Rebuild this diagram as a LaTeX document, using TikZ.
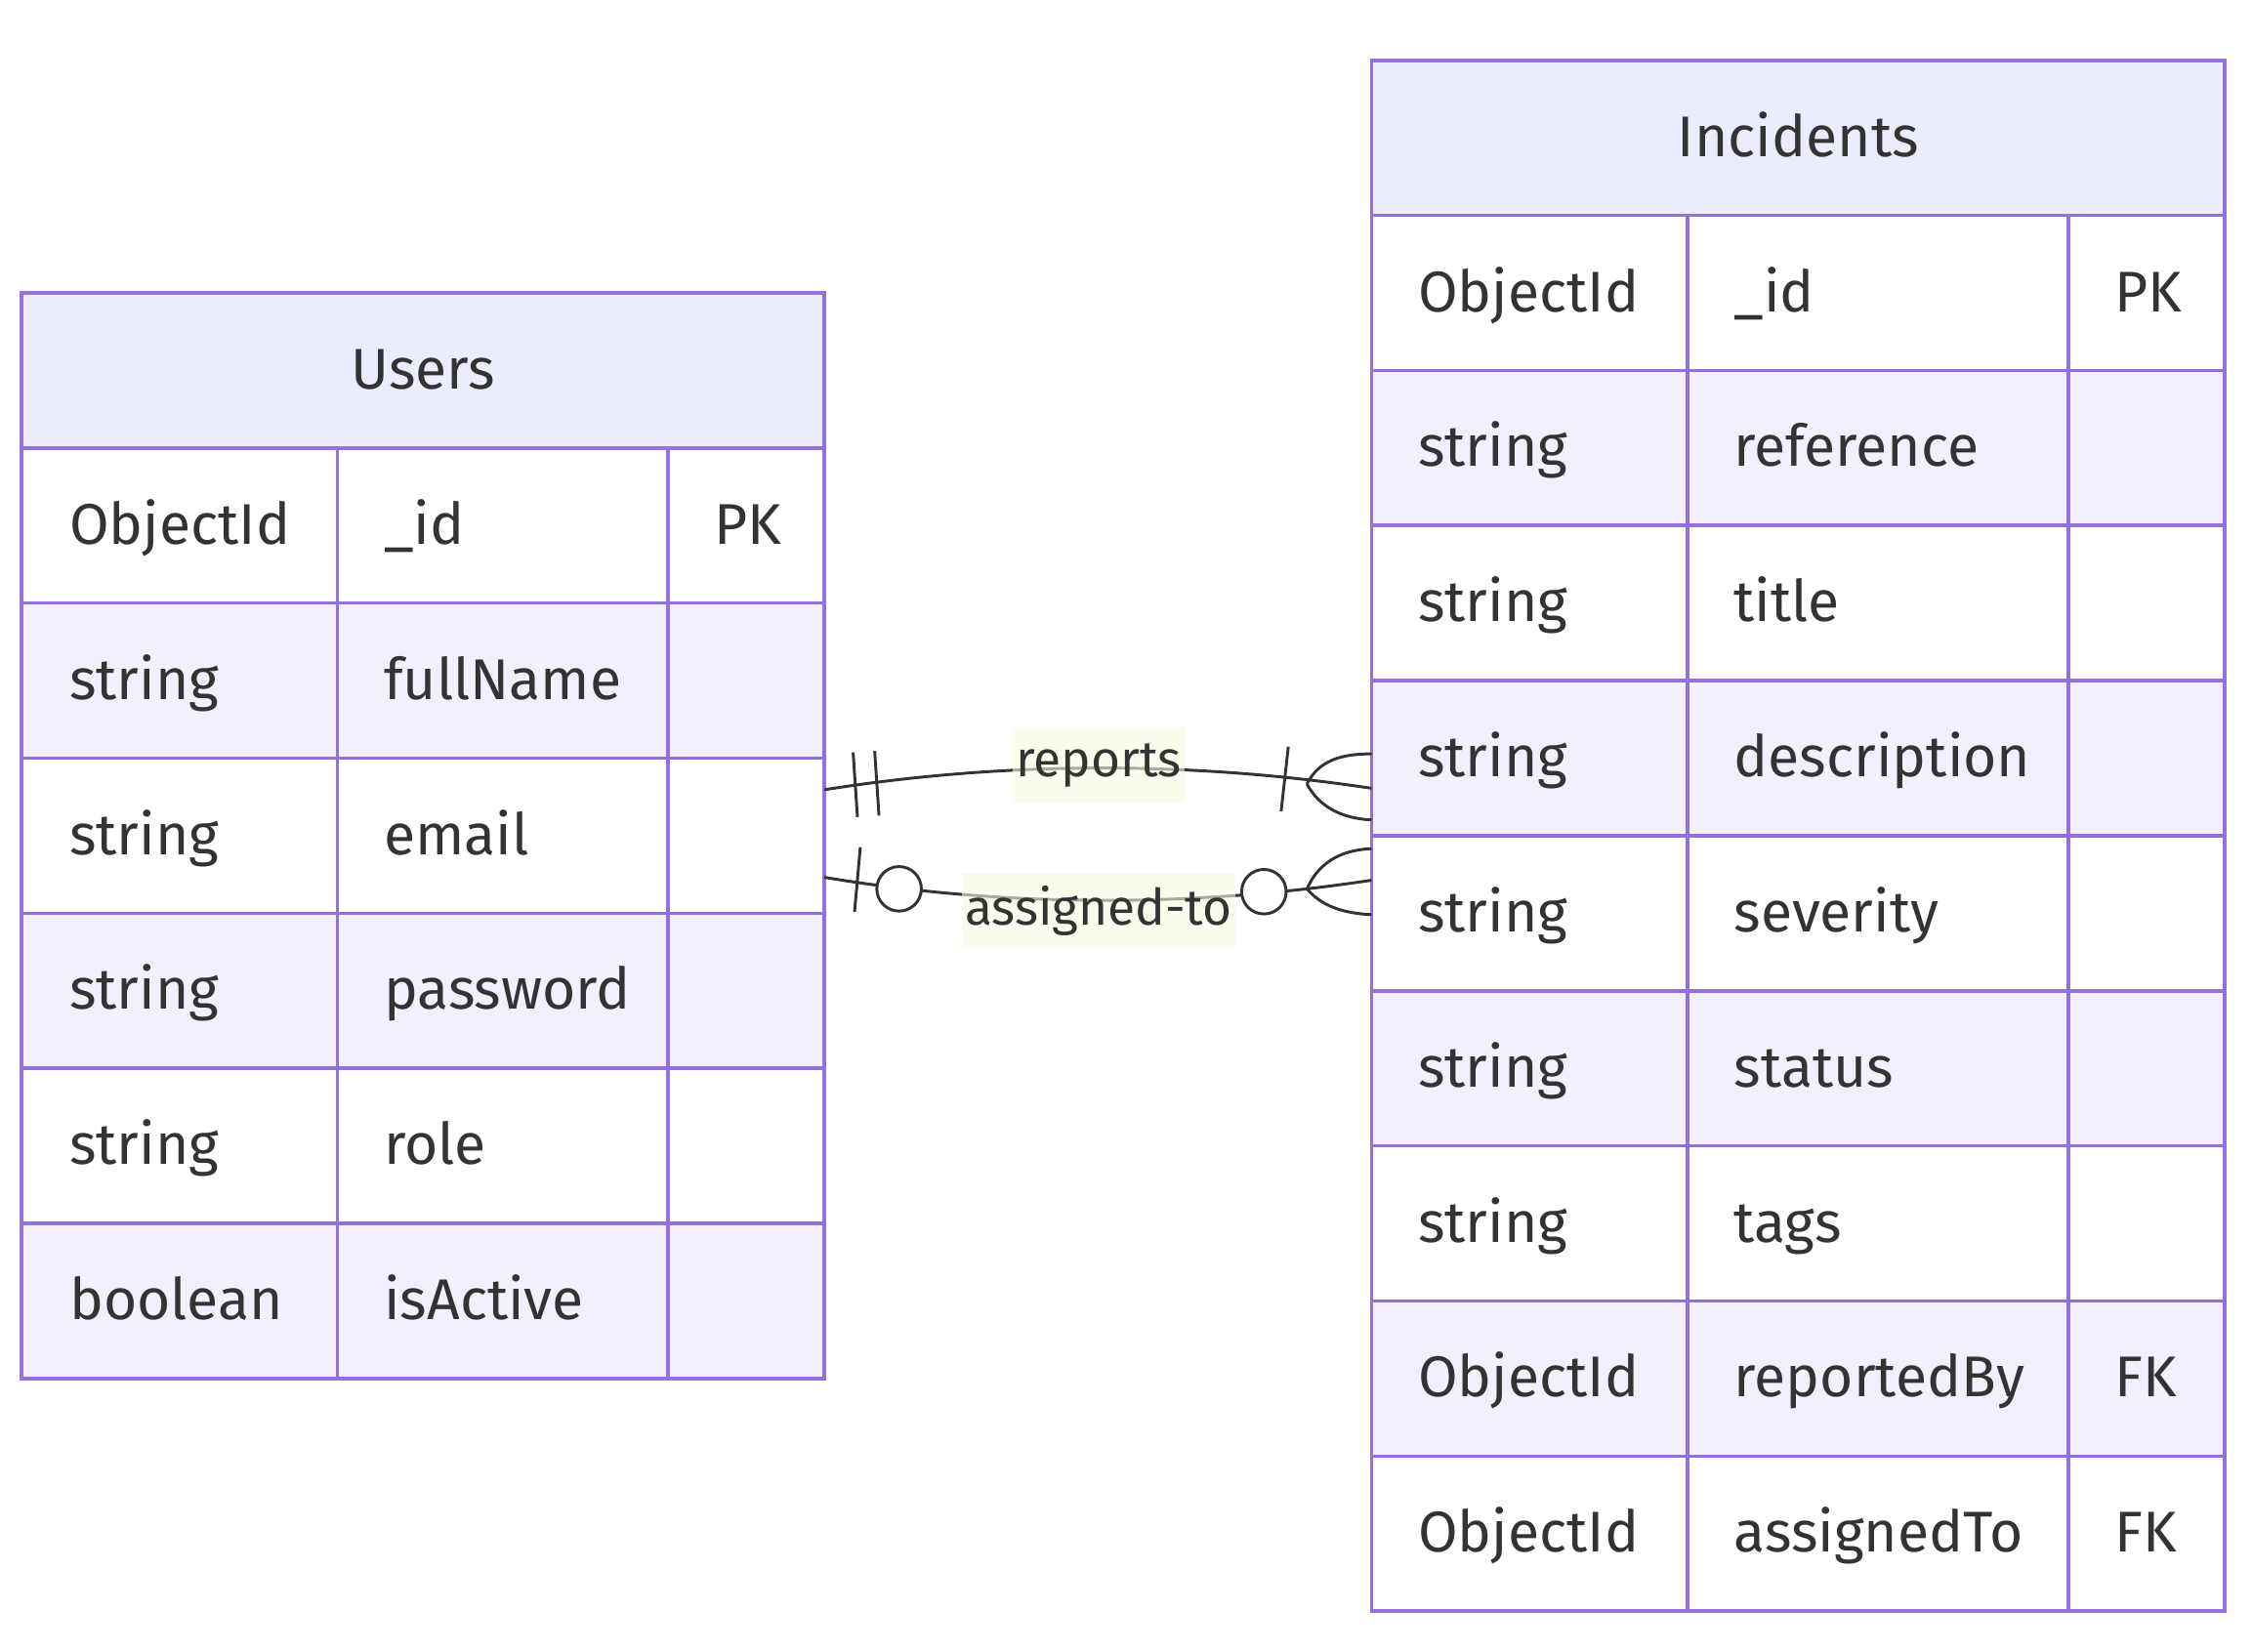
\documentclass[tikz,border=0pt]{standalone}
\usepackage{fontspec}
\setmainfont{Fira Sans}
\usetikzlibrary{positioning,calc}
\definecolor{erline}{HTML}{9370DB}
\definecolor{erhead}{HTML}{ECECFF}
\definecolor{errow}{HTML}{F2F0FF}
\definecolor{ertext}{HTML}{333333}
\definecolor{erlabel}{HTML}{F4FBE2}
\tikzset{
  cell/.style={draw=erline,line width=1.2pt},
  celltext/.style={anchor=base west,inner sep=0pt,text=ertext,font=\fontsize{20}{24}\selectfont},
  headtext/.style={anchor=base,inner sep=0pt,text=ertext,font=\fontsize{20}{24}\selectfont},
  rel/.style={draw=ertext,line width=1pt},
  rellabel/.style={fill=erlabel,fill opacity=0.6,text opacity=1,text=ertext,font=\fontsize{17.5}{20}\selectfont,inner xsep=1pt,inner ysep=0pt,minimum height=26pt}
}
\begin{document}
\begin{tikzpicture}[x=0.5pt,y=-0.5pt]
\useasboundingbox (0,0) rectangle (1568,1150);

\draw[cell,fill=erhead] (15,204) rectangle (574,312);
\node[headtext] (users) at (294.5,271) {Users};
\foreach \ty/\nm/\ky [count=\i] in {ObjectId/\_id/PK,string/fullName/{},string/email/{},string/password/{},string/role/{},boolean/isActive/{}} {
  \pgfmathsetmacro\ry{312+(\i-1)*108}
  \pgfmathsetmacro\rb{\ry+108}
  \ifodd\i \def\rowfill{white}\else \def\rowfill{errow}\fi
  \draw[cell,fill=\rowfill] (15,\ry) rectangle (235,\rb);
  \draw[cell,fill=\rowfill] (235,\ry) rectangle (465,\rb);
  \draw[cell,fill=\rowfill] (465,\ry) rectangle (574,\rb);
  \node[celltext] (users-t\i) at (48,\ry+67) {\ty};
  \node[celltext] (users-n\i) at (267,\ry+67) {\nm};
  \node[celltext] (users-k\i) at (497,\ry+67) {\ky};
}

\draw[cell,fill=erhead] (955,42) rectangle (1549,150);
\node[headtext] (incidents) at (1252,109) {Incidents};
\foreach \ty/\nm/\ky [count=\i] in {ObjectId/\_id/PK,string/reference/{},string/title/{},string/description/{},string/severity/{},string/status/{},string/tags/{},ObjectId/reportedBy/FK,ObjectId/assignedTo/FK} {
  \pgfmathsetmacro\ry{150+(\i-1)*108}
  \pgfmathsetmacro\rb{\ry+108}
  \ifodd\i \def\rowfill{white}\else \def\rowfill{errow}\fi
  \draw[cell,fill=\rowfill] (955,\ry) rectangle (1175,\rb);
  \draw[cell,fill=\rowfill] (1175,\ry) rectangle (1440,\rb);
  \draw[cell,fill=\rowfill] (1440,\ry) rectangle (1549,\rb);
  \node[celltext] (incidents-t\i) at (987,\ry+67) {\ty};
  \node[celltext] (incidents-n\i) at (1207,\ry+67) {\nm};
  \node[celltext] (incidents-k\i) at (1472,\ry+67) {\ky};
}

\coordinate (ur1) at (574,550);
\coordinate (ir1) at (955,549);
\coordinate (ur2) at (574,611);
\coordinate (ir2) at (955,613);
\coordinate (fr1) at (910,546);
\coordinate (fr2) at (910,619);

\draw[rel] (ur1) .. controls (700,530) and (830,530) .. (ir1) node[rellabel,pos=0.5,yshift=1pt] (lreports) {reports};
\draw[rel] (594,524) -- (597,569);
\draw[rel] (609,523) -- (612,568);
\draw[rel] (897,520) -- (892,565);
\draw[rel] (fr1) .. controls (918,530) and (933,525) .. (955,525);
\draw[rel] (fr1) .. controls (918,561) and (933,570) .. (955,571);

\draw[rel] (ur2) .. controls (700,632) and (830,632) .. (ir2) node[rellabel,pos=0.5,yshift=-3.5pt] (lassigned) {assigned-to};
\draw[rel] (599,590) -- (595,635);
\draw[rel,fill=white] (626,619) circle (15.5);
\draw[rel,fill=white] (880,621) circle (15.5);
\draw[rel] (fr2) .. controls (918,601) and (933,592) .. (955,591);
\draw[rel] (fr2) .. controls (920,631) and (935,636) .. (955,637);

\end{tikzpicture}
\end{document}
